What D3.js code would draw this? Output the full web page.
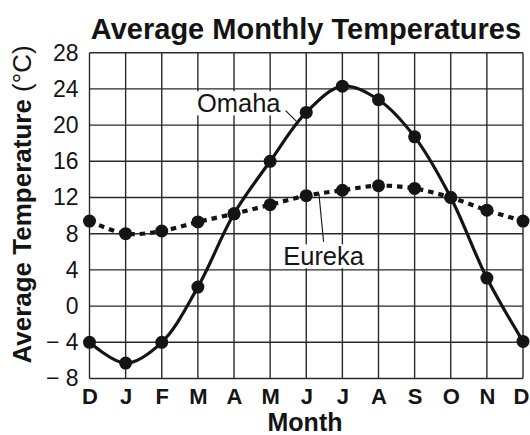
<!DOCTYPE html>
<html>
<head>
<meta charset="utf-8">
<script src="https://cdn.jsdelivr.net/npm/d3@7"></script>
<style>
  html, body { margin: 0; padding: 0; background: #fff; }
  svg { display: block; font-family: "Liberation Sans", Arial, Helvetica, sans-serif; }
</style>
</head>
<body>
<svg id="chart" width="530" height="435"></svg>
<script>
// ---- Data ----
const months = ["D", "J", "F", "M", "A", "M", "J", "J", "A", "S", "O", "N", "D"];
const omaha  = [-4.0, -6.3, -4.0, 2.1, 10.2, 16.0, 21.4, 24.3, 22.8, 18.7, 12.0, 3.1, -3.9];
const eureka = [9.4, 8.0, 8.3, 9.3, 10.2, 11.2, 12.2, 12.8, 13.3, 13.0, 12.0, 10.6, 9.4];
const yTicks = [-8, -4, 0, 4, 8, 12, 16, 20, 24, 28];
const titleText = "Average Monthly Temperatures";
const yLabelBold = "Average Temperature";
const yLabelUnit = " (°C)";
const xLabelText = "Month";
// annotations in data units (month index, temperature)
const labelOmaha  = { text: "Omaha",  at: [4.13, 22.4], from: [5.43, 21.6], to: [5.73, 20.4] };
const labelEureka = { text: "Eureka", at: [6.48, 5.5],  from: [6.35, 12.46], to: [6.48, 7.1] };

// ---- Layout ----
const svg = d3.select("#chart");
const pLeft = 89.5, pRight = 523, pTop = 52.7, pBottom = 378.5;
const x = d3.scaleLinear().domain([0, months.length - 1]).range([pLeft, pRight]);
const y = d3.scaleLinear().domain([-8, 28]).range([pBottom, pTop]);
const ink = "#141414";

// Grid
const grid = svg.append("g").attr("stroke", "#2a2a2a").attr("stroke-width", 1.4);
grid.selectAll("line.v").data(d3.range(months.length)).join("line").attr("class", "v")
  .attr("x1", d => x(d)).attr("x2", d => x(d))
  .attr("y1", pTop).attr("y2", pBottom);
grid.selectAll("line.h").data(yTicks).join("line").attr("class", "h")
  .attr("x1", pLeft).attr("x2", pRight)
  .attr("y1", d => y(d)).attr("y2", d => y(d));

// Y axis labels
const yAxis = d3.axisLeft(y).tickValues(yTicks).tickSize(0).tickPadding(11)
  .tickFormat(d => d < 0 ? "\u2212 " + Math.abs(d) : String(d));
const yg = svg.append("g").attr("transform", `translate(${pLeft},0)`).call(yAxis);
yg.select(".domain").remove();
yg.selectAll("text").attr("font-size", 23).attr("fill", ink)
  .attr("font-family", "Liberation Sans, Arial, sans-serif");

// X axis labels
const xAxis = d3.axisBottom(x).tickValues(d3.range(months.length)).tickSize(0).tickPadding(10)
  .tickFormat(i => months[i]);
const xg = svg.append("g").attr("transform", `translate(0,${pBottom})`).call(xAxis);
xg.select(".domain").remove();
xg.selectAll("text").attr("font-size", 22).attr("font-weight", "bold").attr("fill", ink)
  .attr("font-family", "Liberation Sans, Arial, sans-serif")
  .attr("dx", (d, i) => i === months.length - 1 ? -2 : 0);

// Title
svg.append("text").attr("x", 306).attr("y", 39)
  .attr("text-anchor", "middle").attr("font-size", 29).attr("font-weight", "bold")
  .attr("fill", ink).text(titleText);

// X label
svg.append("text").attr("x", 305).attr("y", 431)
  .attr("text-anchor", "middle").attr("font-size", 25).attr("font-weight", "bold")
  .attr("fill", ink).text(xLabelText);

// Y label
const yl = svg.append("text").attr("transform", `translate(31,204.5) rotate(-90)`)
  .attr("text-anchor", "middle").attr("font-size", 26).attr("fill", ink);
yl.append("tspan").attr("font-weight", "bold").text(yLabelBold);
yl.append("tspan").attr("font-weight", "normal").text(yLabelUnit);

// Annotation labels with white backgrounds
function annotate(a) {
  const g = svg.append("g");
  const t = g.append("text").attr("x", x(a.at[0])).attr("y", y(a.at[1]))
    .attr("text-anchor", "middle").attr("dominant-baseline", "central")
    .attr("font-size", 25.5).attr("fill", ink).text(a.text);
  const bb = t.node().getBBox();
  g.insert("rect", "text").attr("x", bb.x - 2).attr("y", bb.y + 2)
    .attr("width", bb.width + 4).attr("height", bb.height - 4).attr("fill", "#fff");
  svg.append("line").attr("x1", x(a.from[0])).attr("y1", y(a.from[1]))
    .attr("x2", x(a.to[0])).attr("y2", y(a.to[1]))
    .attr("stroke", ink).attr("stroke-width", 1.1);
}
annotate(labelOmaha);
annotate(labelEureka);

// Lines
const line = d3.line().x((d, i) => x(i)).y(d => y(d)).curve(d3.curveCatmullRom.alpha(0.5));
svg.append("path").datum(eureka).attr("d", line)
  .attr("fill", "none").attr("stroke", ink).attr("stroke-width", 4.2)
  .attr("stroke-dasharray", "5.5,5");
svg.append("path").datum(omaha).attr("d", line)
  .attr("fill", "none").attr("stroke", ink).attr("stroke-width", 3.2);

// Points
[eureka, omaha].forEach(series => {
  svg.append("g").selectAll("circle").data(series).join("circle")
    .attr("cx", (d, i) => x(i)).attr("cy", d => y(d)).attr("r", 6.5).attr("fill", ink);
});
</script>
</body>
</html>
